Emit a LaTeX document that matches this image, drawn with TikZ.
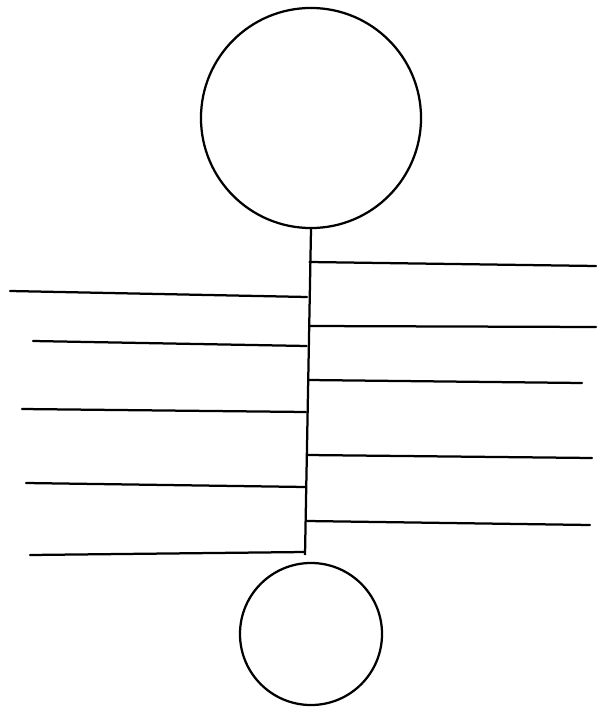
\documentclass[tikz,border=0pt]{standalone}
\usepackage{tikz}
\usetikzlibrary{positioning,calc}
\tikzset{
  ball/.style ={circle,draw,line width=1.6pt,inner sep=0pt},
  spine/.style={line width=1.6pt},
  leaf/.style ={line width=1.6pt,line cap=round},
}
\begin{document}
\begin{tikzpicture}[x=0.025cm,y=-0.025cm]
  \useasboundingbox (0,0) rectangle (597,708);
  % head and foot circles
  \node[ball,minimum size=5.5cm]  (head) at (311,118){};
  \node[ball,minimum size=3.55cm] (foot) at (311,634){};
  % spine
  \coordinate (s1) at (305,555);
  \draw[spine] (head.south) -- (s1);
  % right side
  \coordinate (r1a) at (309.5,262); \coordinate (r1b) at (596,266);
  \coordinate (r2a) at (309,326);   \coordinate (r2b) at (596,327);
  \coordinate (r3a) at (308.5,380); \coordinate (r3b) at (582,383);
  \coordinate (r4a) at (307.5,455); \coordinate (r4b) at (592,458);
  \coordinate (r5a) at (307,521);   \coordinate (r5b) at (590,525);
  \draw[leaf] (r1a) -- (r1b); \draw[leaf] (r2a) -- (r2b);
  \draw[leaf] (r3a) -- (r3b); \draw[leaf] (r4a) -- (r4b);
  \draw[leaf] (r5a) -- (r5b);
  % left side
  \coordinate (l1a) at (10,291);  \coordinate (l1b) at (307,297);
  \coordinate (l2a) at (33,341);  \coordinate (l2b) at (306.5,346);
  \coordinate (l3a) at (22,409);  \coordinate (l3b) at (306,412);
  \coordinate (l4a) at (26,483);  \coordinate (l4b) at (305.5,487);
  \coordinate (l5a) at (30,555);  \coordinate (l5b) at (305,552);
  \draw[leaf] (l1a) -- (l1b); \draw[leaf] (l2a) -- (l2b);
  \draw[leaf] (l3a) -- (l3b); \draw[leaf] (l4a) -- (l4b);
  \draw[leaf] (l5a) -- (l5b);
\end{tikzpicture}
\end{document}
